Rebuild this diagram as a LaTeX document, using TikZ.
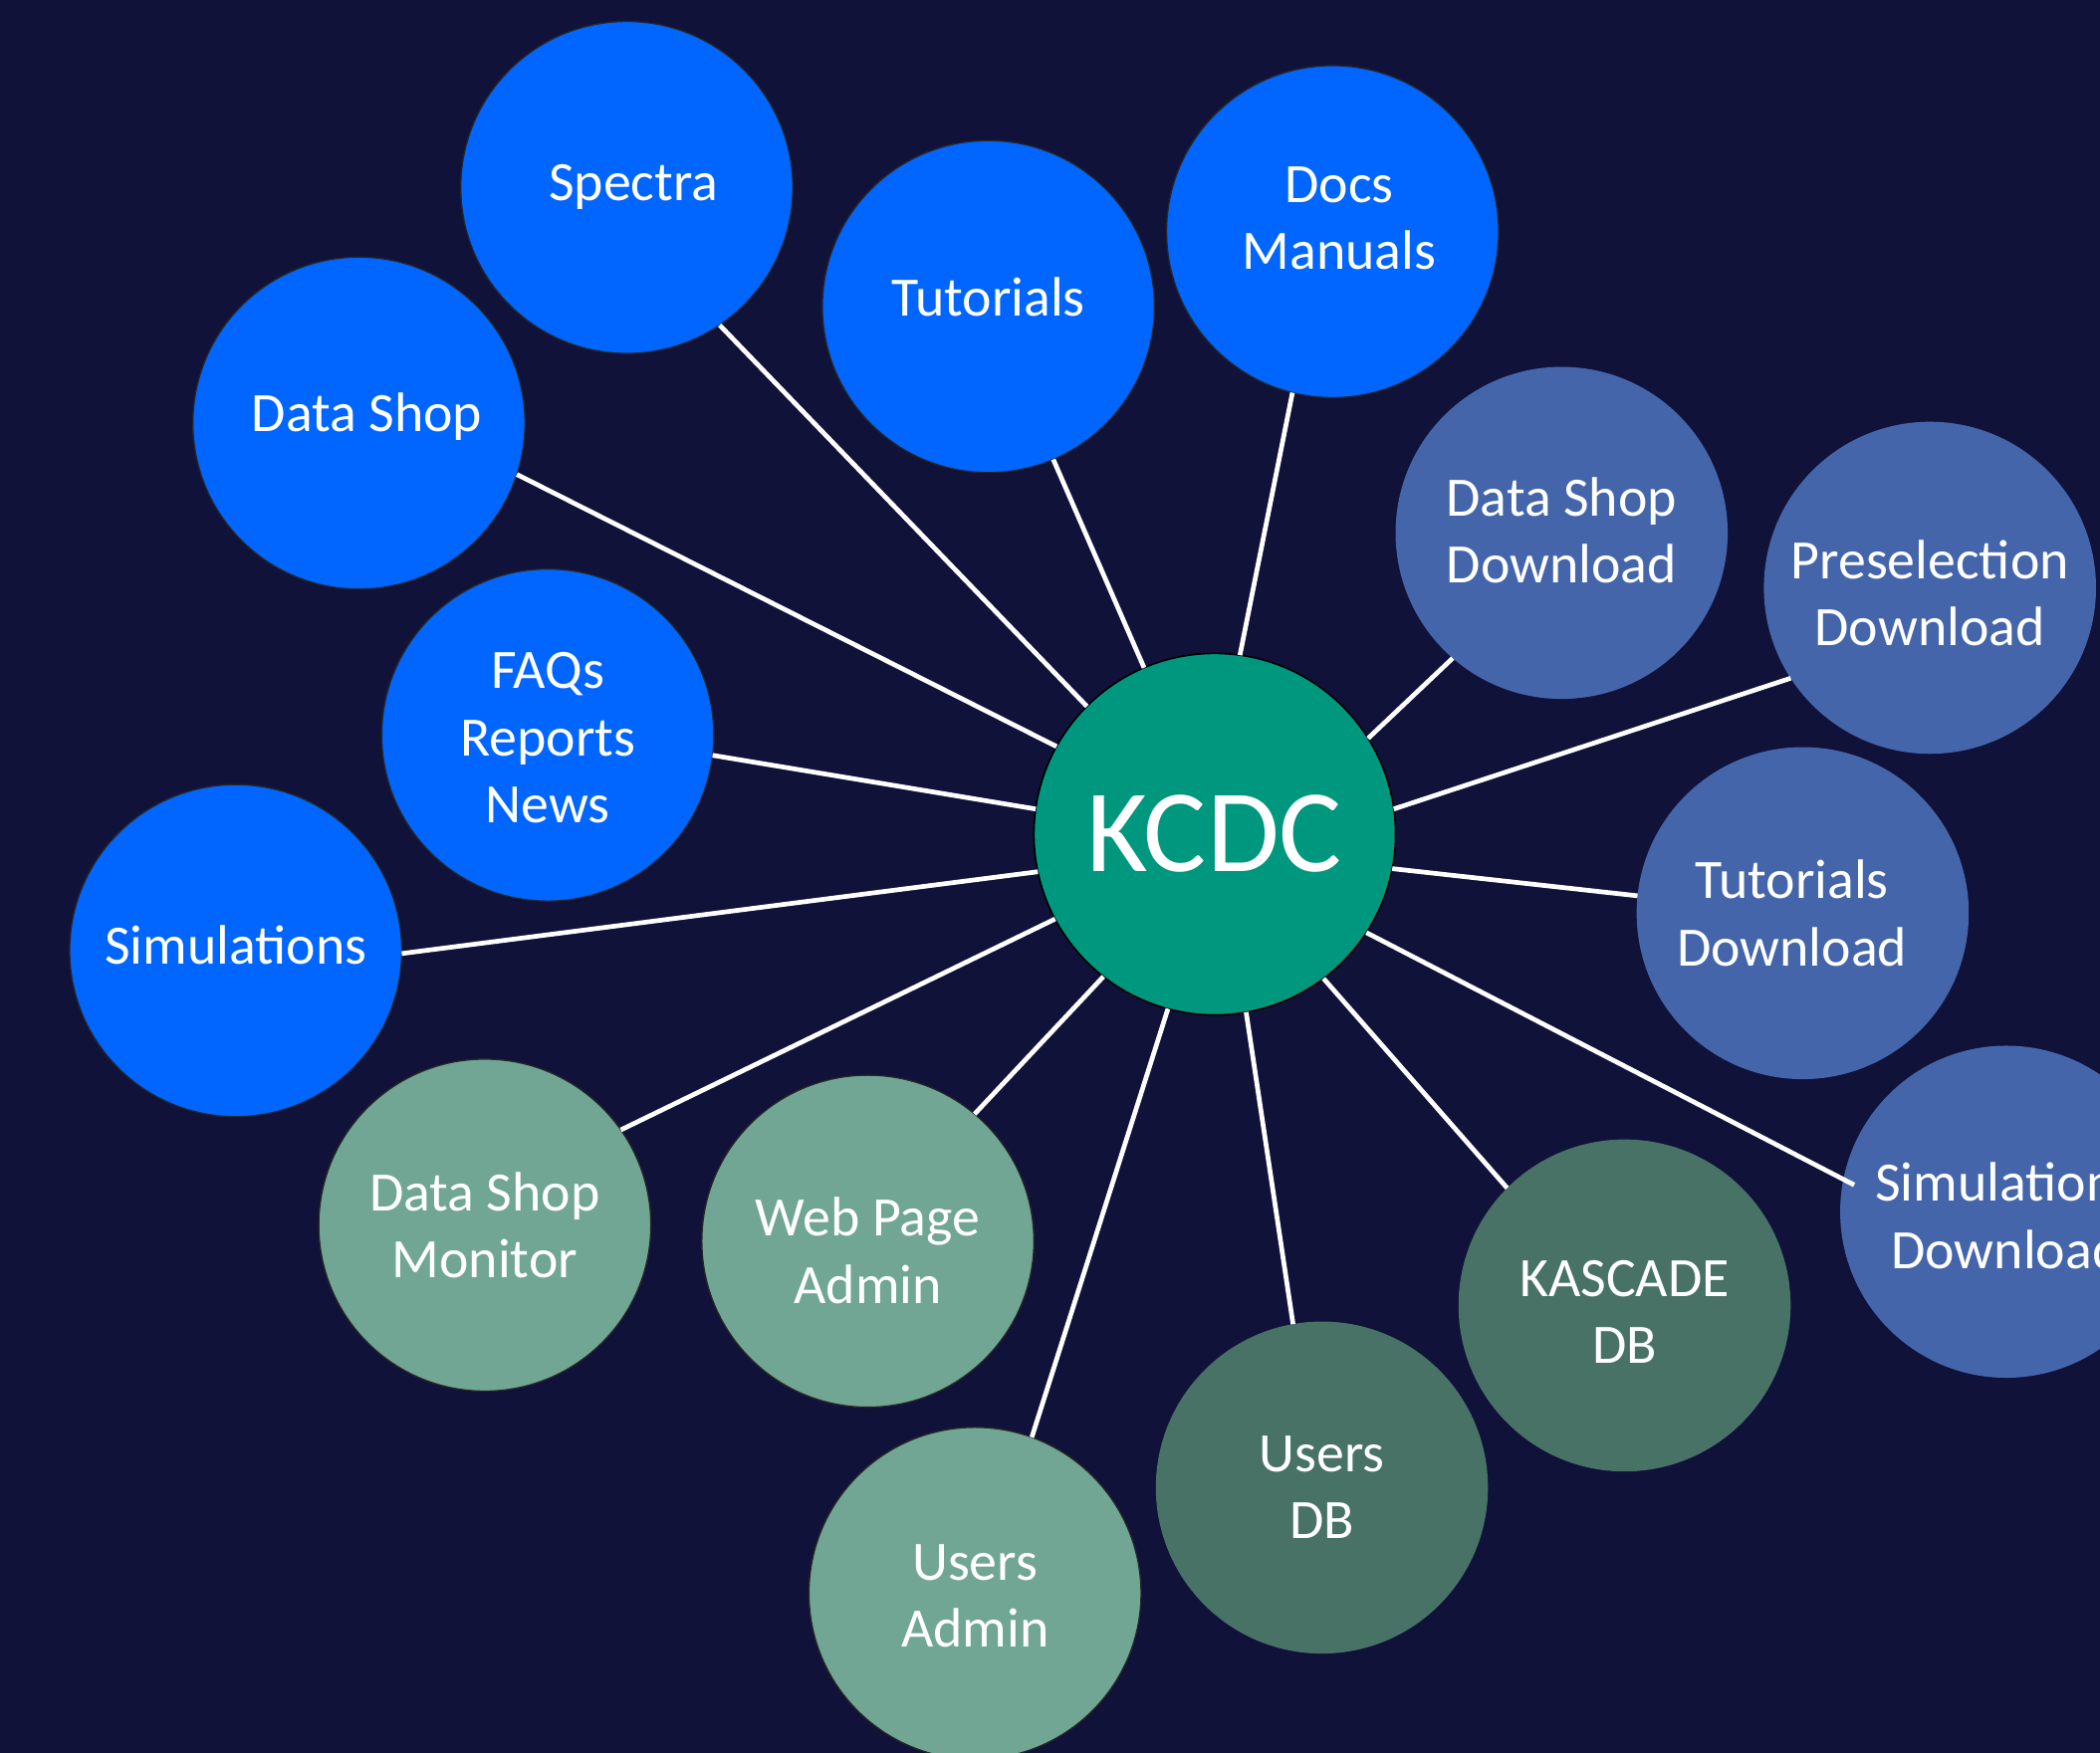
\documentclass[tikz,border=0pt]{standalone}
\usepackage{fontspec}
\setmainfont{Carlito}
\usetikzlibrary{calc}
\definecolor{bgnavy}{HTML}{10123A}
\definecolor{brightblue}{HTML}{0066FF}
\definecolor{slateblue}{HTML}{4565AB}
\definecolor{tealc}{HTML}{00977F}
\definecolor{lightgreen}{HTML}{71A695}
\definecolor{darkgreen}{HTML}{487265}
\tikzset{
  bubble/.style={circle, minimum size=248pt, inner sep=0pt, outer sep=0pt,
    draw=black!85, line width=1pt},
  blueb/.style={bubble, fill=brightblue},
  slateb/.style={bubble, fill=slateblue, draw=none},
  lgreenb/.style={bubble, fill=lightgreen},
  dgreenb/.style={bubble, fill=darkgreen, draw=none},
  every label/.style={text=white, align=center, inner sep=0pt,
    font=\fontsize{41.5}{50}\selectfont},
  hub/.style={circle, minimum size=270pt, inner sep=0pt, outer sep=0pt,
    draw=black, line width=1.2pt, fill=tealc, text=white,
    font=\fontsize{88}{100}\selectfont},
  spoke/.style={draw=white, line width=3.5pt}
}
\begin{document}
\begin{tikzpicture}[x=1pt,y=-1pt]
\fill[bgnavy] (0,0) rectangle (1568,1309);
\useasboundingbox (0,0) rectangle (1568,1309);
\clip (0,0) rectangle (1568,1309);
% nodes
\node[hub] (kcdc) at (907,623) {KCDC};
\node[blueb, label={[xshift=5pt]center:Spectra}] (spectra) at (468,140) {};
\node[blueb, label={[yshift=7pt]center:Tutorials}] (tut) at (738,229) {};
\node[blueb, label={[xshift=5pt,yshift=10pt]center:{Docs\\Manuals}}] (docs) at (995,173) {};
\node[blueb, label={[xshift=6pt,yshift=5pt]center:Data Shop}] (dshop) at (268,316) {};
\node[blueb, label={[yshift=-2pt]center:{FAQs\\Reports\\News}}] (faq) at (409,549) {};
\node[blueb, label={[yshift=4pt]center:Simulations}] (sim) at (176,710) {};
\node[lgreenb, label={center:{Data Shop\\Monitor}}] (dsm) at (362,915) {};
\node[lgreenb, label={[yshift=-7pt]center:{Web Page\\Admin}}] (wpa) at (648,927) {};
\node[lgreenb, label={[yshift=-2pt]center:{Users\\Admin}}] (uadm) at (728,1190) {};
\node[dgreenb, label={center:{Users\\DB}}] (udb) at (987,1111) {};
\node[dgreenb, label={[yshift=-5pt]center:{KASCADE\\DB}}] (kdb) at (1213,975) {};
\node[slateb, label={[yshift=2pt]center:{Data Shop\\Download}}] (dsdl) at (1166,398) {};
\node[slateb, label={[yshift=-4pt]center:{Preselection\\Download}}] (predl) at (1441,439) {};
\node[slateb, label={[xshift=-8pt]center:{Tutorials\\Download}}] (tutdl) at (1346,682) {};
\node[slateb, label={[yshift=-3pt]center:{Simulations\\Download}}] (simdl) at (1498,905) {};
% connectors
\draw[spoke] (kcdc.135) -- (spectra.304);
\draw[spoke] (kcdc.113) -- (tut.293);
\draw[spoke] (kcdc.82) -- (docs.256);
\draw[spoke] (kcdc.151) -- (dshop.342);
\draw[spoke] (kcdc.172) -- (faq.353);
\draw[spoke] (kcdc.192) -- (sim.359);
\draw[spoke] (kcdc.208) -- (dsm.35);
\draw[spoke] (kcdc.232) -- (wpa.50);
\draw[spoke] (kcdc.255) -- (uadm.70);
\draw[spoke] (kcdc.280) -- (udb.100);
\draw[spoke] (kcdc.307) -- (kdb.135);
\draw[spoke] (kcdc.327) -- ($(simdl.170)!0.07!(simdl.center)$);
\draw[spoke] (kcdc.349) -- (tutdl.174);
\draw[spoke] (kcdc.8) -- (predl.213);
\draw[spoke] (kcdc.32) -- (dsdl.229);
\end{tikzpicture}
\end{document}
